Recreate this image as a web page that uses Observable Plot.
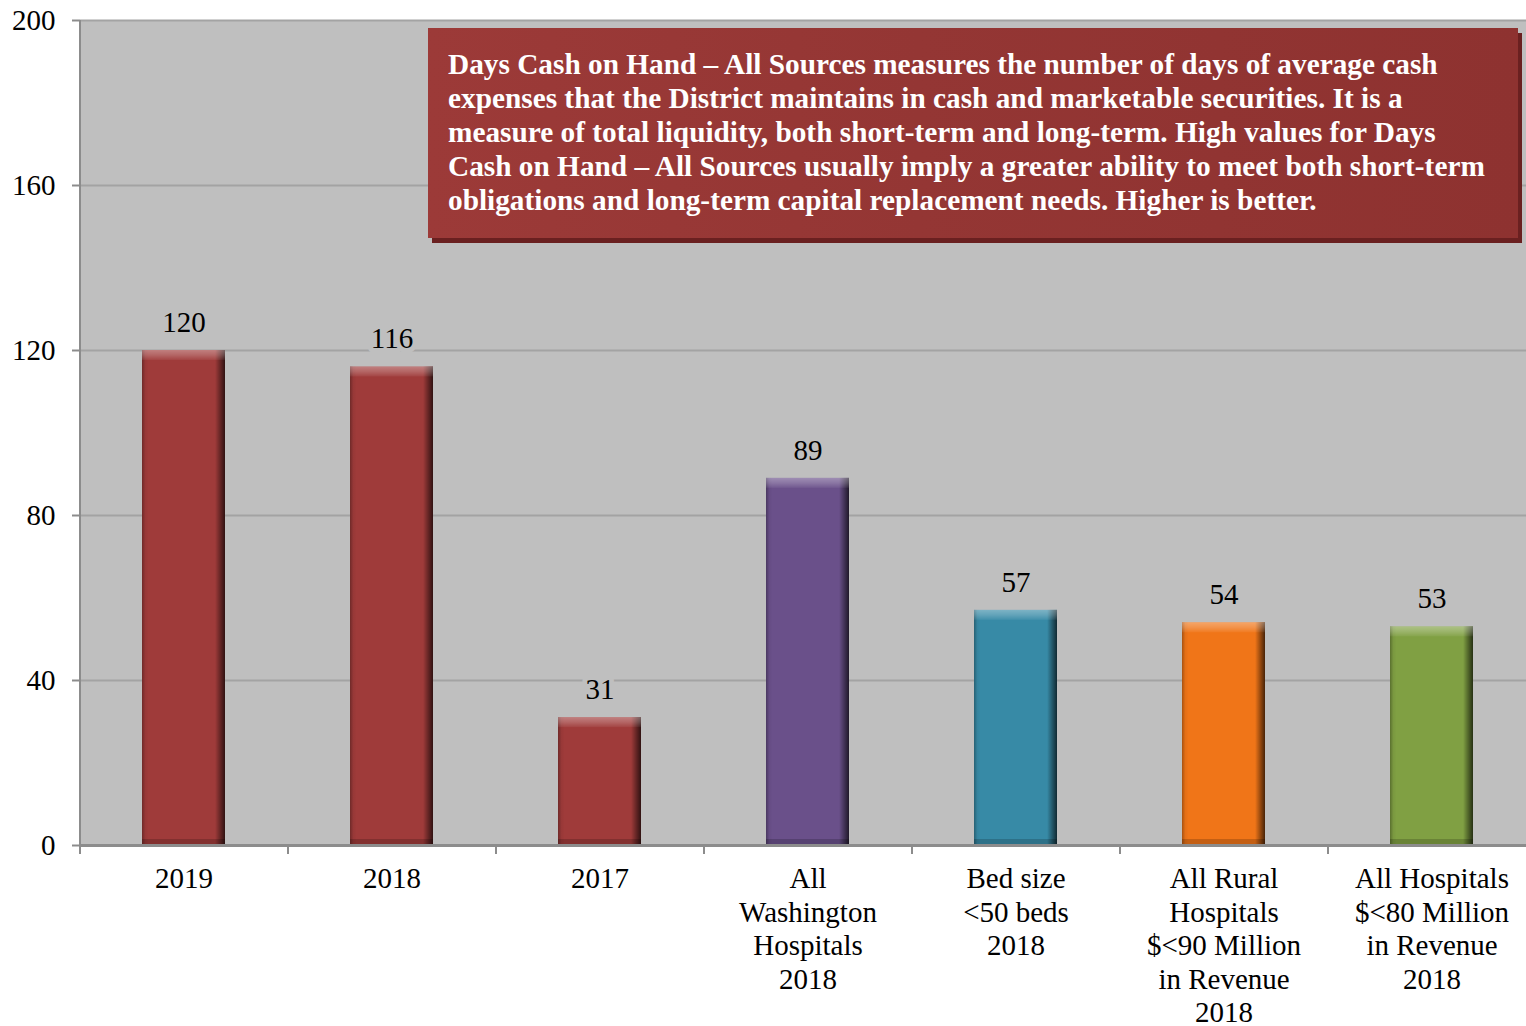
<!DOCTYPE html>
<html>
<head>
<meta charset="utf-8">
<script src="https://cdn.jsdelivr.net/npm/d3@7"></script>
<script src="https://cdn.jsdelivr.net/npm/@observablehq/plot@0.6"></script>
<style>
  html, body { margin: 0; padding: 0; background: #fff; overflow: hidden; }
  #wrap { position: relative; width: 1526px; height: 1026px; }
  #note {
    position: absolute; left: 428px; top: 28px; width: 1090px; height: 210px;
    box-sizing: border-box; padding: 19px 0 0 20px;
    background: linear-gradient(to right, #9c3a38, #943634 45%, #8e3230);
    box-shadow: 4px 5px 0 #6a2020;
    color: #fff; font-family: "Liberation Serif", "Times New Roman", serif;
    font-weight: bold; font-size: 29.3px; line-height: 34px; white-space: nowrap;
  }
</style>
</head>
<body>
<div id="wrap"></div>
<script>
const categories = [
  "2019",
  "2018",
  "2017",
  "All\nWashington\nHospitals\n2018",
  "Bed size\n<50 beds\n2018",
  "All Rural\nHospitals\n$<90 Million\nin Revenue\n2018",
  "All Hospitals\n$<80 Million\nin Revenue\n2018"
];
const values = [120, 116, 31, 89, 57, 54, 53];
const barColors = ["#9f3b3a", "#9f3b3a", "#9f3b3a", "#6a508a", "#378aa6", "#f07518", "#80a043"];
const yTicks = [0, 40, 80, 120, 160, 200];
const noteLines = [
  "Days Cash on Hand \u2013 All Sources measures the number of days of average cash",
  "expenses that the District maintains in cash and marketable securities. It is a",
  "measure of total liquidity, both short-term and long-term. High values for Days",
  "Cash on Hand \u2013 All Sources usually imply a greater ability to meet both short-term",
  "obligations and long-term capital replacement needs. Higher is better."
];

const data = categories.map((c, i) => ({category: c, value: values[i], color: barColors[i]}));

const axisGray = "#8c8c8c";
const bg = "#bfbfbf";
const fs = 29;

const chart = Plot.plot({
  width: 1526,
  height: 1026,
  marginLeft: 80,
  marginRight: 0,
  marginTop: 20,
  marginBottom: 181,
  style: {fontFamily: "'Liberation Serif', 'Times New Roman', serif", fontSize: fs + "px", color: "#000", background: "#fff"},
  x: {domain: categories, range: [80, 1536], paddingInner: 0.6, paddingOuter: 0.3, axis: null},
  y: {domain: [0, 200], axis: null},
  color: {type: "identity"},
  marks: [
    Plot.frame({fill: bg, stroke: null}),
    Plot.gridY(yTicks, {stroke: "#a3a3a3", strokeOpacity: 1, strokeWidth: 2}),
    Plot.barY(data, {x: "category", y: "value", fill: "color"}),
    Plot.barY(data, {x: "category", y: "value", fill: "url(#shadeH)"}),
    Plot.barY(data, {x: "category", y1: "value", y2: "value", insetBottom: -10, fill: "url(#capV)"}),
    Plot.barY(data, {x: "category", y1: 0, y2: 0, insetTop: -6, fill: "#000", fillOpacity: 0.18}),
    Plot.text(data, {x: "category", y: "value", text: d => String(d.value), dy: -28, lineAnchor: "middle", fontSize: fs, fill: "#000", stroke: bg, strokeWidth: 10}),
    Plot.ruleY([0], {stroke: axisGray, strokeWidth: 3}),
    Plot.ruleX([categories[0]], {y1: 0, y2: 200, dx: -104, stroke: axisGray, strokeWidth: 2}),
    Plot.axisY({ticks: yTicks, label: null, tickSize: 8, tickPadding: 17, fontSize: fs, stroke: axisGray, strokeWidth: 2, strokeOpacity: 1, tickFormat: d => String(d)}),
    Plot.axisX({tickSize: 9, dx: -104, label: null, text: null, stroke: axisGray, strokeWidth: 2, strokeOpacity: 1}),
    Plot.axisX({tickSize: 0, label: null, tickPadding: 19, fontSize: fs, lineHeight: 1.155, fill: "#000"})
  ]
});

const defs = d3.select(chart).insert("defs", ":first-child");
const gh = defs.append("linearGradient").attr("id", "shadeH").attr("x1", 0).attr("x2", 1).attr("y1", 0).attr("y2", 0);
[[0, 0.3], [0.04, 0.05], [0.08, 0], [0.88, 0], [0.94, 0.35], [1, 0.7]].forEach(([o, a]) =>
  gh.append("stop").attr("offset", o).attr("stop-color", "#000").attr("stop-opacity", a));
const gv = defs.append("linearGradient").attr("id", "capV").attr("x1", 0).attr("x2", 0).attr("y1", 0).attr("y2", 1);
[[0, 0.35], [0.5, 0.22], [1, 0.05]].forEach(([o, a]) =>
  gv.append("stop").attr("offset", o).attr("stop-color", "#fff").attr("stop-opacity", a));

const wrap = document.getElementById("wrap");
wrap.appendChild(chart);
const note = document.createElement("div");
note.id = "note";
note.innerHTML = noteLines.map(l => l.replace(/&/g, "&amp;").replace(/</g, "&lt;")).join("<br>");
wrap.appendChild(note);
</script>
</body>
</html>
